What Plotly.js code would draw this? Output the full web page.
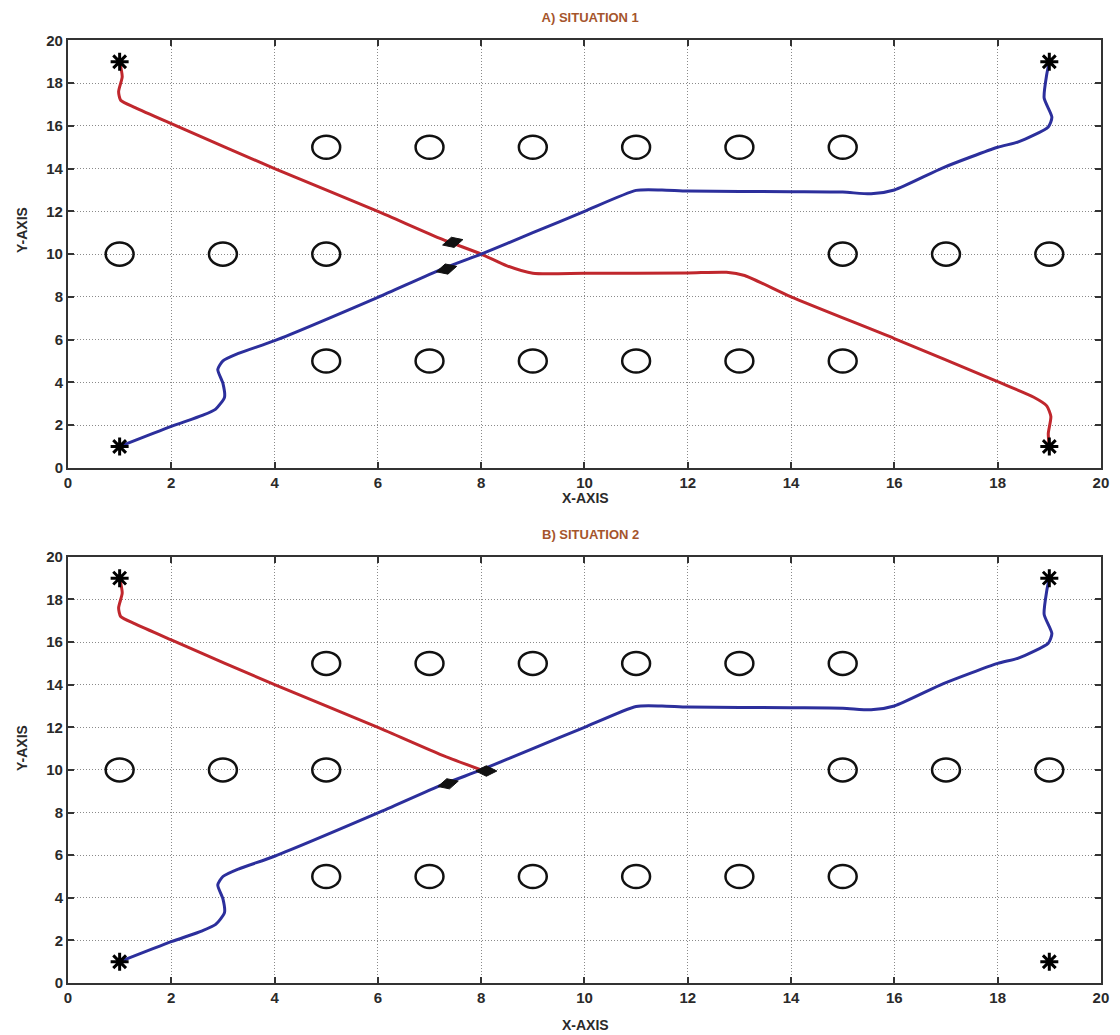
<!DOCTYPE html>
<html>
<head>
<meta charset="utf-8">
<script src="https://cdn.plot.ly/plotly-3.0.1.min.js"></script>
<style>html,body{margin:0;padding:0;background:#fff;}#chart{width:1120px;height:1035px;}</style>
</head>
<body>
<div id="chart"></div>
<script>
// ---- data ----
var tickVals = [0, 2, 4, 6, 8, 10, 12, 14, 16, 18, 20];

var obstacleX = [5, 7, 9, 11, 13, 15, 1, 3, 5, 15, 17, 19, 5, 7, 9, 11, 13, 15];
var obstacleY = [15, 15, 15, 15, 15, 15, 10, 10, 10, 10, 10, 10, 5, 5, 5, 5, 5, 5];

var startGoalX = [1, 19, 1, 19];
var startGoalY = [19, 19, 1, 1];

// Situation 1
var red1X = [1, 1.05, 0.98, 1.02, 1.3, 2, 4, 6, 7.24, 8, 8.5, 9, 10, 12, 12.75, 13.1, 14, 16, 18, 18.7, 18.95, 19.03, 18.98, 19];
var red1Y = [19, 18.3, 17.6, 17.2, 16.85, 16.1, 14, 12, 10.7, 10, 9.45, 9.1, 9.1, 9.12, 9.15, 9.0, 8.0, 6.05, 4.03, 3.3, 2.9, 2.4, 1.6, 1];
var blue1X = [1, 2, 2.6, 2.86, 3.03, 3.0, 2.9, 3.0, 3.3, 4, 6, 7.24, 8, 9, 10, 11, 11.5, 12, 14, 15, 15.55, 16, 16.95, 18, 18.4, 18.98, 19.05, 18.9, 18.95, 19];
var blue1Y = [1, 1.94, 2.45, 2.75, 3.3, 3.95, 4.6, 5.0, 5.35, 5.95, 7.98, 9.3, 10, 11, 12, 12.98, 13.0, 12.95, 12.92, 12.9, 12.82, 13.0, 14.05, 15.0, 15.25, 15.95, 16.4, 17.3, 18.4, 19];
var robots1X = [7.45, 7.33];
var robots1Y = [10.55, 9.3];

// Situation 2
var red2X = [1, 1.05, 0.98, 1.02, 1.3, 2, 4, 6, 7.24, 8];
var red2Y = [19, 18.3, 17.6, 17.2, 16.85, 16.1, 14, 12, 10.7, 10];
var blue2X = blue1X.slice();
var blue2Y = blue1Y.slice();
var robots2X = [7.36, 8.1];
var robots2Y = [9.35, 9.95];

// ---- styles ----
var RED = '#c0272d', BLUE = '#2c2f9c';
var tickFont = {family: 'Liberation Sans, Arial, sans-serif', size: 15, color: '#2a2a2a', weight: 'bold'};
var labFont = {family: 'Liberation Sans, Arial, sans-serif', size: 14, color: '#2a2a2a', weight: 'bold'};
var titleFont = {family: 'Liberation Sans, Arial, sans-serif', size: 13, color: '#a5552c', weight: 'bold'};

function pathTrace(x, y, color, xa, ya) {
  return {x: x, y: y, xaxis: xa, yaxis: ya, type: 'scatter', mode: 'lines',
    line: {color: color, width: 3, shape: 'spline', smoothing: 0.6}, hoverinfo: 'skip', showlegend: false};
}
function starTrace(xa, ya) {
  return {x: startGoalX, y: startGoalY, xaxis: xa, yaxis: ya, type: 'scatter', mode: 'markers',
    marker: {symbol: 'asterisk-open', size: 15, color: '#000', line: {color: '#000', width: 3}}, showlegend: false};
}
function robotTrace(x, y, xa, ya, angles) {
  return {x: x, y: y, xaxis: xa, yaxis: ya, type: 'scatter', mode: 'markers',
    marker: {symbol: 'diamond-wide', size: 15, color: '#111', angle: angles, line: {color: '#111', width: 1}}, showlegend: false};
}

var traces = [
  pathTrace(red1X, red1Y, RED, 'x', 'y'),
  pathTrace(blue1X, blue1Y, BLUE, 'x', 'y'),
  robotTrace(robots1X, robots1Y, 'x', 'y', [-15, -15]),
  starTrace('x', 'y'),
  pathTrace(red2X, red2Y, RED, 'x2', 'y2'),
  pathTrace(blue2X, blue2Y, BLUE, 'x2', 'y2'),
  robotTrace(robots2X, robots2Y, 'x2', 'y2', [-15, 0]),
  starTrace('x2', 'y2')
];

var shapes = [];
['1', '2'].forEach(function (k) {
  var xr = k === '1' ? 'x' : 'x2', yr = k === '1' ? 'y' : 'y2';
  for (var i = 0; i < obstacleX.length; i++) {
    shapes.push({type: 'circle', xref: xr, yref: yr,
      x0: obstacleX[i] - 0.27, x1: obstacleX[i] + 0.27,
      y0: obstacleY[i] - 0.54, y1: obstacleY[i] + 0.54,
      line: {color: '#111', width: 2.5}, fillcolor: 'rgba(0,0,0,0)'});
  }
});

function axis(domain, anchor) {
  return {domain: domain, anchor: anchor, range: [0, 20], tickvals: tickVals, ticktext: tickVals.map(String),
    showgrid: true, gridcolor: '#8a8a8a', griddash: '1px,2px', gridwidth: 1, zeroline: false,
    showline: true, linecolor: '#333', linewidth: 2, mirror: 'ticks',
    ticks: 'inside', ticklen: 6, tickwidth: 2, tickcolor: '#333', tickfont: tickFont, fixedrange: true};
}

var xDom = [0.0607, 0.983];
var layout = {
  width: 1120, height: 1035,
  margin: {l: 0, r: 0, t: 0, b: 0},
  paper_bgcolor: '#fff', plot_bgcolor: '#fff',
  title: {text: 'A) SITUATION 1', font: titleFont, x: 0.527, xanchor: 'center', y: 0.9835, yanchor: 'middle'},
  xaxis: axis(xDom, 'y'),
  yaxis: axis([0.548, 0.961], 'x'),
  xaxis2: axis(xDom, 'y2'),
  yaxis2: axis([0.0502, 0.462], 'x2'),
  shapes: shapes,
  annotations: [
    {text: 'B) SITUATION 2', font: titleFont, xref: 'paper', yref: 'paper', x: 0.527, y: 1 - 534 / 1035, xanchor: 'center', yanchor: 'middle', showarrow: false},
    {text: 'X-AXIS', font: labFont, xref: 'paper', yref: 'paper', x: 0.523, y: 1 - 498 / 1035, xanchor: 'center', yanchor: 'middle', showarrow: false},
    {text: 'X-AXIS', font: labFont, xref: 'paper', yref: 'paper', x: 0.523, y: 1 - 1025 / 1035, xanchor: 'center', yanchor: 'middle', showarrow: false},
    {text: 'Y-AXIS', font: labFont, textangle: -90, xref: 'paper', yref: 'paper', x: 22 / 1120, y: 1 - 230 / 1035, xanchor: 'center', yanchor: 'middle', showarrow: false},
    {text: 'Y-AXIS', font: labFont, textangle: -90, xref: 'paper', yref: 'paper', x: 22 / 1120, y: 1 - 748 / 1035, xanchor: 'center', yanchor: 'middle', showarrow: false}
  ]
};

Plotly.newPlot('chart', traces, layout, {displayModeBar: false, staticPlot: true});
</script>
</body>
</html>
